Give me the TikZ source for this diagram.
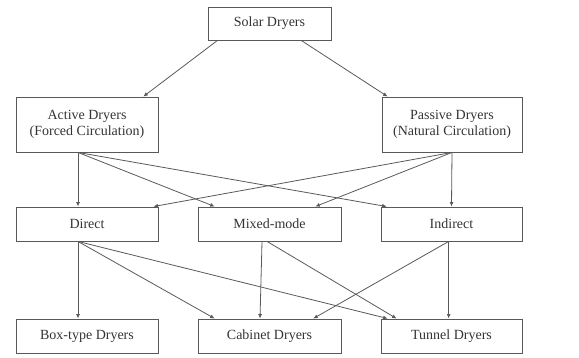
\documentclass[tikz,border=0pt]{standalone}
\usepackage{fontspec}
\setmainfont{Liberation Serif}
\usetikzlibrary{calc,arrows.meta}
\begin{document}
\begin{tikzpicture}[x=1pt,y=-1pt,
  box/.style={draw=black!65,line width=0.9pt,rectangle,inner sep=0pt,align=center,
    font=\fontsize{14}{16.5}\selectfont,text=black!80},
  arr/.style={draw=black!65,line width=0.8pt,-{Latex[length=4.5pt,width=4pt]}}]
\useasboundingbox (0,0) rectangle (579,358);
\node[box,minimum width=123pt,minimum height=33pt] (solar) at (269.5,23.5) {Solar Dryers};
\node[box,minimum width=142pt,minimum height=55pt] (active) at (87,124.5) {Active Dryers\\(Forced Circulation)};
\node[box,minimum width=140pt,minimum height=55pt] (passive) at (452,124.5) {Passive Dryers\\(Natural Circulation)};
\node[box,minimum width=142pt,minimum height=34pt] (direct) at (87,224) {Direct};
\node[box,minimum width=143pt,minimum height=34pt] (mixed) at (269.5,224) {Mixed-mode};
\node[box,minimum width=141pt,minimum height=34pt] (indirect) at (451.5,224) {Indirect};
\node[box,minimum width=142pt,minimum height=34pt] (boxtype) at (87,336) {Box-type Dryers};
\node[box,minimum width=143pt,minimum height=34pt] (cabinet) at (269.5,336) {Cabinet Dryers};
\node[box,minimum width=141pt,minimum height=34pt] (tunnel) at (451.5,336) {Tunnel Dryers};
% level 1
\draw[arr] ($(solar.south west)!0.08!(solar.south east)$) -- ($(active.north west)!0.894!(active.north east)$);
\draw[arr] ($(solar.south west)!0.756!(solar.south east)$) -- ($(passive.north west)!0.043!(passive.north east)$);
% level 2
\draw[arr] ($(active.south west)!0.437!(active.south east)$) -- ($(direct.north west)!0.437!(direct.north east)$);
\draw[arr] ($(active.south west)!0.437!(active.south east)$) -- ($(mixed.north west)!0.119!(mixed.north east)$);
\draw[arr] ($(active.south west)!0.437!(active.south east)$) -- ($(indirect.north west)!0.043!(indirect.north east)$);
\draw[arr] ($(passive.south west)!0.5!(passive.south east)$) -- ($(indirect.north west)!0.5!(indirect.north east)$);
\draw[arr] ($(passive.south west)!0.5!(passive.south east)$) -- ($(mixed.north west)!0.818!(mixed.north east)$);
\draw[arr] ($(passive.south west)!0.5!(passive.south east)$) -- ($(direct.north west)!0.965!(direct.north east)$);
% level 3
\draw[arr] ($(direct.south west)!0.437!(direct.south east)$) -- ($(boxtype.north west)!0.437!(boxtype.north east)$);
\draw[arr] ($(direct.south west)!0.437!(direct.south east)$) -- ($(cabinet.north west)!0.119!(cabinet.north east)$);
\draw[arr] ($(direct.south west)!0.437!(direct.south east)$) -- ($(tunnel.north west)!0.05!(tunnel.north east)$);
\draw[arr] ($(mixed.south west)!0.448!(mixed.south east)$) -- ($(cabinet.north west)!0.434!(cabinet.north east)$);
\draw[arr] ($(mixed.south west)!0.483!(mixed.south east)$) -- ($(tunnel.north west)!0.113!(tunnel.north east)$);
\draw[arr] ($(indirect.south west)!0.48!(indirect.south east)$) -- ($(tunnel.north west)!0.48!(tunnel.north east)$);
\draw[arr] ($(indirect.south west)!0.48!(indirect.south east)$) -- ($(cabinet.north west)!0.804!(cabinet.north east)$);
\end{tikzpicture}
\end{document}
